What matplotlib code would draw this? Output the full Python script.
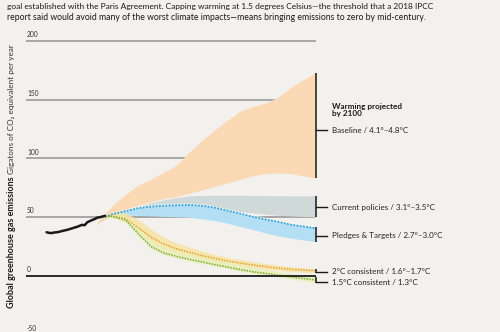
import matplotlib
matplotlib.use("Agg")
import matplotlib.pyplot as plt
import numpy as np

# ---------------- data ----------------
hist_years = list(range(1994, 2018))
hist_vals = [37.0, 36.5, 36.3, 36.8, 37.0, 37.4, 38.0, 38.5, 39.0, 39.6, 40.3, 41.0,
             41.6, 42.5, 43.3, 43.0, 45.5, 46.5, 47.5, 48.3, 49.5, 49.8, 50.4, 51.0]

base_years = [2013, 2017, 2020, 2025, 2030, 2035, 2040, 2045, 2050, 2055, 2060, 2065,
              2070, 2075, 2080, 2085, 2090, 2095, 2100]
base_upper = [43, 53, 60, 69, 77, 82, 88, 94, 105, 115, 124, 132, 140, 144, 147, 152, 160, 167, 173]
base_lower = [43, 48, 52, 56, 60, 63, 65.5, 67.5, 70, 73, 76, 79, 82, 85, 87, 87.5, 87, 85, 83]

proj_years = [2017, 2020, 2025, 2030, 2035, 2040, 2045, 2050, 2055, 2060, 2065, 2070,
              2075, 2080, 2085, 2090, 2095, 2100]

cur_upper = [50, 52, 55.5, 59, 62, 64.5, 66.5, 68, 68.5, 68.5, 68.5, 68.5, 68.3, 68.2, 68.1, 68, 68, 68]
cur_lower = [50, 51, 52.5, 54, 55, 56, 56.5, 57, 57, 56.5, 55.5, 54.5, 53.5, 52.5, 51.5, 51, 50.5, 50]

pledge_line = [50, 52.5, 55, 57.5, 58.8, 59.6, 60, 60.2, 59.6, 58, 55.5, 53, 50.3, 48, 46, 43.5, 42, 40.4]
pledge_upper = [50.5, 53, 55.6, 58.1, 59.4, 60.2, 60.6, 60.8, 60.2, 58.6, 56.1, 53.6, 51, 48.7, 46.7, 44.2, 42.7, 41.5]
pledge_lower = [50, 50.5, 51.3, 51.5, 51, 50.5, 50.2, 49.8, 48.5, 47, 44.8, 42, 39.5, 36.5, 34, 32, 30.5, 29]

two_line = [50.5, 50.8, 48.5, 41, 33, 27, 23, 20, 17.2, 14.8, 12.6, 10.8, 9.2, 7.7, 6.5, 5.5, 4.8, 4.3]
two_upper = [51.5, 53.8, 53.5, 48, 40, 33, 28, 24.5, 21.2, 18.3, 15.8, 13.8, 12, 10.4, 9, 7.8, 6.8, 5.7]
two_lower = [50, 49.3, 46, 37.5, 29, 23, 19.5, 17, 14.2, 12.3, 10.1, 8.3, 7.2, 5.7, 4.5, 3.5, 2.8, 2.3]

one5_line = [50.5, 50.5, 47.5, 36, 25, 19.5, 16.5, 14, 11.8, 9.5, 7.5, 5.3, 3.4, 2, 0.5, -1, -2.4, -3.7]
one5_upper = [51, 52, 50.5, 41, 31, 25.5, 22, 19, 16.8, 14, 12, 9.3, 7.4, 5.5, 3.5, 2, 0.6, -1.2]
one5_lower = [50, 49.5, 46, 34, 23, 18, 15, 12.5, 10.3, 8, 6, 3.8, 1.9, 0.5, -1, -2.5, -4.4, -6]

grid_values = [200, 150, 100, 50]
tick_labels = ["200", "150", "100", "50", "0", "-50"]
tick_values = [200, 150, 100, 50, 0, -50]

labels = [
    ("Baseline / 4.1°–4.8°C", 173, 83, 124),
    ("Current policies / 3.1°–3.5°C", 68, 50, 58.5),
    ("Pledges & Targets / 2.7°–3.0°C", 41.5, 29, 34),
    ("2°C consistent / 1.6°–1.7°C", 5.7, 2.3, 3.4),
    ("1.5°C consistent / 1.3°C", -1.2, -6, -5.6),
]

title_lines = [
    "goal established with the Paris Agreement. Capping warming at 1.5 degrees Celsius—the threshold that a 2018 IPCC",
    "report said would avoid many of the worst climate impacts—means bringing emissions to zero by mid-century.",
]

# ---------------- layout helpers (pixel -> data) ----------------
W, H = 500, 332
PX_PER_YR = 2.542
PX_PER_UNIT = 1.174
def yr(px):
    return 2017 + (px - 105) / PX_PER_YR
def val(py):
    return (275.7 - py) / PX_PER_UNIT

bg = "#f3f1ee"
FONT = "Lato"

fig = plt.figure(figsize=(W / 100, H / 100), dpi=100, facecolor=bg)
ax = fig.add_axes([0, 0, 1, 1])
ax.set_facecolor(bg)
ax.set_xlim(yr(0), yr(W))
ax.set_ylim(val(H), val(0))
ax.axis("off")
fig.canvas.draw()
renderer = fig.canvas.get_renderer()

def fit(t, target, horizontal=True):
    bb = t.get_window_extent(renderer)
    length = bb.width if horizontal else bb.height
    t.set_fontsize(t.get_fontsize() * target / length)

x_left = yr(25.5)
x_end = 2100

# gridlines
for v in grid_values:
    ax.plot([x_left, x_end], [v, v], color="#9a9a9a", lw=1.2, zorder=1, solid_capstyle="butt")
ax.plot([x_left, x_end], [0, 0], color="#1a1a1a", lw=1.3, zorder=8, solid_capstyle="butt")

for lab, v in zip(tick_labels, tick_values):
    ax.text(yr(27), v + 2.3, lab, fontsize=4.8, family=FONT, color="#333333",
            ha="left", va="bottom", zorder=9)

# fans
ax.fill_between(base_years, base_lower, base_upper, color="#fbd9b4", lw=0, zorder=2)
ax.fill_between(proj_years, cur_lower, cur_upper, color="#cfd9d8", lw=0, zorder=3)
ax.fill_between(proj_years, pledge_lower, pledge_upper, color="#b4def4", lw=0, zorder=4)
ax.plot(proj_years, pledge_upper, color="white", lw=1.2, alpha=0.6, zorder=4)
ax.fill_between(proj_years, two_lower, two_upper, color="#f8e4a6", lw=0, alpha=0.85, zorder=5)
ax.fill_between(proj_years, one5_lower, one5_upper, color="#e9efb6", lw=0, alpha=0.85, zorder=5)

ax.plot(proj_years, pledge_line, color="#2aa4dc", lw=1.3, ls=(0, (1, 0.8)), zorder=6)
ax.plot(proj_years, two_line, color="#e6a52c", lw=1.1, ls=(0, (1, 0.8)), zorder=6)
ax.plot(proj_years, one5_line, color="#79ad3a", lw=1.1, ls=(0, (1, 0.8)), zorder=6)

ax.plot(hist_years, hist_vals, color="#1a1a1a", lw=1.8, zorder=7, solid_capstyle="round")

# right-side brackets and labels
x_tick_end = yr(327)
x_label = yr(332)
for text, hi, lo, mid in labels:
    ax.plot([x_end, x_end], [lo, hi], color="#1a1a1a", lw=1.1, zorder=9, solid_capstyle="butt")
    ax.plot([x_end, x_tick_end], [mid, mid], color="#1a1a1a", lw=1.0, zorder=9)
    ax.text(x_label, mid, text, fontsize=5.8, family=FONT, color="#222222",
            ha="left", va="center", zorder=9)

ax.text(x_label, val(103), "Warming projected\nby 2100", fontsize=5.9, family=FONT,
        fontweight="bold", color="#1a1a1a", ha="left", va="top", linespacing=0.95, zorder=9)

# title text
targets = [421, 416]
for i, line in enumerate(title_lines):
    t = fig.text(7 / W, 1 - (6 + 11.5 * i) / H, line, fontsize=6.6, family=FONT,
                 color="#1a1a1a", ha="left", va="center")
    fit(t, targets[i])

# y label: bold + regular pieces
t1 = fig.text(11.7 / W, 1 - 308 / H, "Global greenhouse gas emissions", rotation=90,
              fontsize=6.6, family=FONT, fontweight="bold", color="#1a1a1a",
              ha="center", va="bottom")
fit(t1, 131, horizontal=False)
bb = t1.get_window_extent(renderer)
t2 = fig.text(11.7 / W, (bb.y1 + 2) / H, "Gigatons of CO\u2082 equivalent per year", rotation=90,
              fontsize=5.9, family=FONT, color="#333333", ha="center", va="bottom")

fig.savefig("out.png", dpi=100, facecolor=bg)
